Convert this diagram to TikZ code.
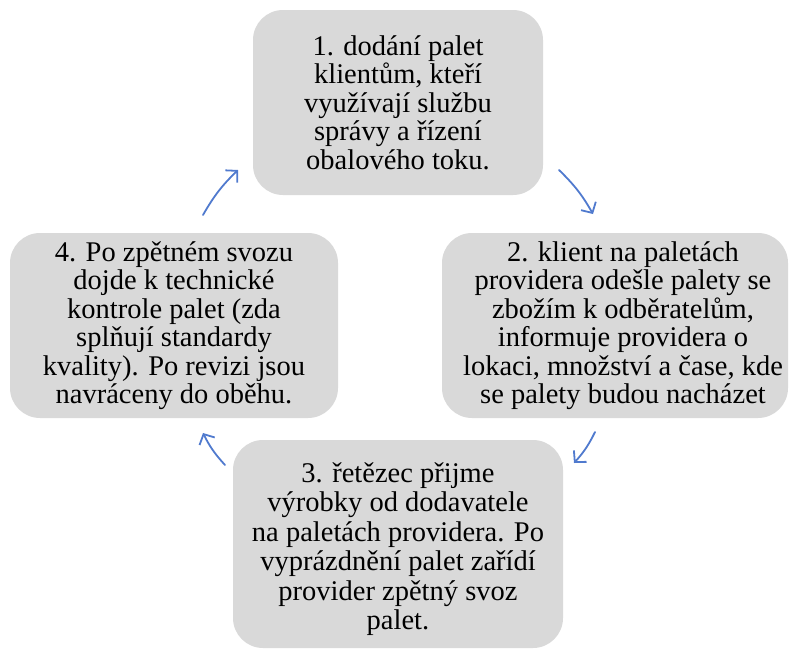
\documentclass[tikz,border=0pt]{standalone}
\usepackage{fontspec}
\setmainfont{Liberation Serif}
\newfontfamily\stepfont{Liberation Serif}
\usetikzlibrary{arrows.meta}
\definecolor{boxfill}{RGB}{217,217,217}
\definecolor{flowblue}{RGB}{80,122,206}
\begin{document}
\begin{tikzpicture}[x=1pt,y=-1pt,
  steptext/.style={align=center, text=black,
    font=\stepfont\fontsize{28.5}{28.5}\selectfont},
  stepbox/.style={rectangle, rounded corners=30pt, fill=boxfill, draw=none,
    inner sep=0pt, steptext},
  cyclearrow/.style={draw=flowblue, line width=1.8pt, line cap=round,
    -{Straight Barb[length=8pt,width=17pt,line width=1.8pt]}, bend left=8}]
  \useasboundingbox (0,0) rectangle (792,653);

  % the four steps of the pallet cycle
  \node[stepbox, minimum width=290pt, minimum height=185pt] (s1) at (398,102.5)
    {1. dodání palet\\klientům, kteří\\využívají službu\\správy a řízení\\obalového toku.};
  \node[stepbox, minimum width=346pt, minimum height=185pt] (s2) at (615,325.5) {};
  \node[steptext] (t2) at ([xshift=8pt]s2.center)
    {2. klient na paletách\\providera odešle palety se\\zbožím k odběratelům,\\informuje providera o\\lokaci, množství a čase, kde\\se palety budou nacházet};
  \node[stepbox, minimum width=330pt, minimum height=208pt] (s3) at (398,544) {};
  \node[steptext, font=\stepfont\fontsize{28.5}{29.5}\selectfont] (t3) at ([yshift=-5pt]s3.center)
    {3. řetězec přijme\\výrobky od dodavatele\\na paletách providera. Po\\vyprázdnění palet zařídí\\provider zpětný svoz\\palet.};
  \node[stepbox, minimum width=328pt, minimum height=185pt] (s4) at (174,325.5)
    {4. Po zpětném svozu\\dojde k technické\\kontrole palet (zda\\splňují standardy\\kvality). Po revizi jsou\\navráceny do oběhu.};

  % arrow end points between neighbouring steps
  \coordinate (a12s) at (559,170);
  \coordinate (a12e) at (593,214);
  \coordinate (a23s) at (595,432);
  \coordinate (a23e) at (574,463);
  \coordinate (a34s) at (225,465);
  \coordinate (a34e) at (203,433);
  \coordinate (a41s) at (203,215);
  \coordinate (a41e) at (238,170);

  \draw[cyclearrow] (a12s) to (a12e);
  \draw[cyclearrow] (a23s) to (a23e);
  \draw[cyclearrow] (a34s) to (a34e);
  \draw[cyclearrow] (a41s) to (a41e);
\end{tikzpicture}
\end{document}
